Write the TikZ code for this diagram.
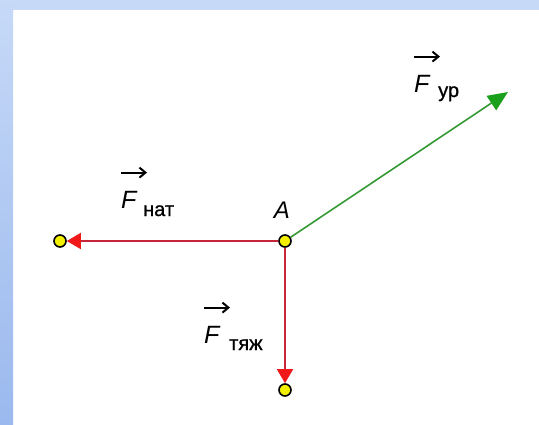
\documentclass[tikz,border=0pt]{standalone}
\usepackage{fontspec}
\setmainfont{Liberation Sans}
\usetikzlibrary{arrows.meta}
\definecolor{bordtop}{HTML}{C6D9F7}
\definecolor{bordbot}{HTML}{9BB9EE}
\definecolor{redline}{HTML}{C8253A}
\definecolor{redhead}{HTML}{F01818}
\definecolor{greenline}{HTML}{359A35}
\definecolor{greenhead}{HTML}{1AA01A}
\definecolor{dotyellow}{HTML}{F2F000}
\begin{document}
\begin{tikzpicture}[x=1pt,y=-1pt,
  dot/.style={circle,draw=black,line width=1.6pt,fill=dotyellow,inner sep=0pt,minimum size=12pt},
  redvec/.style={draw=redline,line width=1.6pt,-{Triangle[length=14pt,width=16pt,color=redhead]}},
  greenvec/.style={draw=greenline,line width=1.6pt,-{Triangle[length=20pt,width=17pt,color=greenhead]}},
  bigF/.style={font=\fontsize{25}{25}\selectfont\itshape,inner sep=0pt,anchor=base west},
  subs/.style={font=\fontsize{20}{20}\selectfont\addfontfeatures{FakeBold=1}, inner sep=0pt,anchor=base west},
  overarrow/.style={draw=black,line width=2pt,-{Straight Barb[length=6pt,width=10pt]}}]
\useasboundingbox (0,0) rectangle (539,424);
\fill[white] (0,0) rectangle (539,424);
\fill[bordtop] (0,0) rectangle (539,10);
\shade[top color=bordtop,bottom color=bordbot] (0,0) rectangle (13,424);

\node[dot] (A) at (285,241) {};
\node[dot] (L) at (60,241) {};
\node[dot] (B) at (285,390) {};
\coordinate (G) at (508,92);

\draw[redvec] (A) -- (L);
\draw[redvec] (A) -- (B);
\draw[greenvec] (A) -- (G);

\node[font=\fontsize{24}{24}\selectfont\itshape,inner sep=0pt,anchor=base] (lA) at (282,218) {A};

\node[bigF] (Fn) at (121,208) {F};
\node[subs] (Fns) at (143,216) {нат};
\draw[overarrow] (Fn.north west) ++(0,-18) coordinate (fna) -- ++(26,0);

\node[bigF] (Ft) at (204,343) {F};
\node[subs] (Fts) at (229,350) {тяж};
\draw[overarrow] (Ft.north west) ++(0,-18) coordinate (fta) -- ++(26,0);

\node[bigF] (Fu) at (414,92) {F};
\node[subs] (Fus) at (438,97) {ур};
\draw[overarrow] (Fu.north west) ++(0,-18) coordinate (fua) -- ++(26,0);
\end{tikzpicture}
\end{document}
